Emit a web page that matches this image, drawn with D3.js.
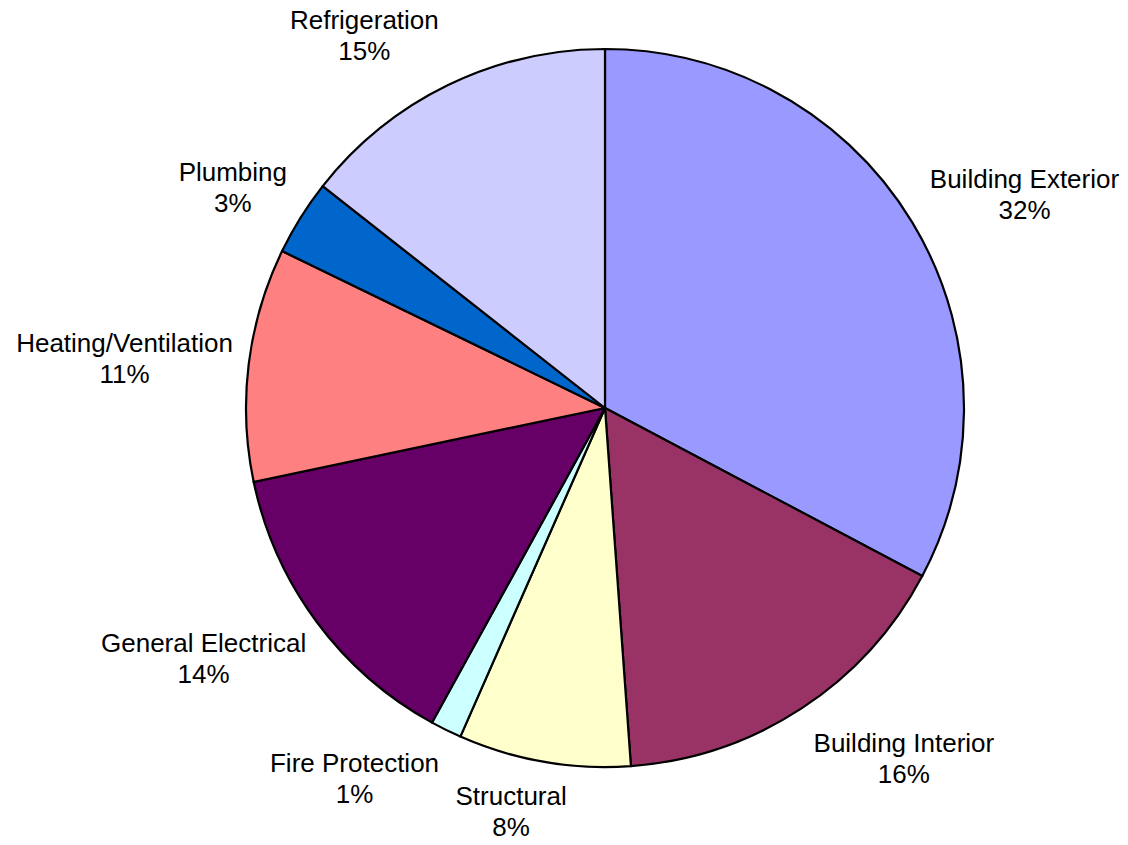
<!DOCTYPE html>
<html>
<head>
<meta charset="utf-8">
<script src="https://cdn.jsdelivr.net/npm/d3@7"></script>
<style>
  body { margin: 0; background: #fff; }
  svg text { font-family: "Liberation Sans", Arial, sans-serif; fill: #000; }
</style>
</head>
<body>
<div id="chart"></div>
<script>
// Data (shares of total, clockwise from 12 o'clock)
var categories = ['Building Exterior', 'Building Interior', 'Structural', 'Fire Protection',
                  'General Electrical', 'Heating/Ventilation', 'Plumbing', 'Refrigeration'];
var values = [32.75, 16.1, 7.75, 1.4, 13.7, 10.5, 3.4, 14.4];
var percentLabels = ['32%', '16%', '8%', '1%', '14%', '11%', '3%', '15%'];
var colors = ['#9999FF', '#993366', '#FFFFCC', '#CCFFFF', '#660066', '#FF8080', '#0066CC', '#CCCCFF'];

function drawPie(containerId) {
    var width = 1128, height = 845;
    var cx = 605, cy = 408, radius = 359;

    var container = d3.select('#' + containerId);
    container.html('');

    var svg = container.append('svg').attr('width', width).attr('height', height);
    var g = svg.append('g').attr('transform', 'translate(' + cx + ',' + cy + ')');

    var data = categories.map(function(c, i) {
        return { label: c, value: values[i], pct: percentLabels[i], color: colors[i] };
    });

    var pie = d3.pie().sort(null).value(d => d.value);
    var arc = d3.arc().innerRadius(0).outerRadius(radius);
    var arcs = pie(data);

    // Slices
    g.selectAll('path')
        .data(arcs)
        .enter()
        .append('path')
        .attr('d', arc)
        .attr('fill', d => d.data.color)
        .attr('stroke', '#000')
        .attr('stroke-width', 2.2)
        .attr('stroke-linejoin', 'round');

    // Labels outside the pie: distance from centre and a small angle nudge (degrees)
    var labelRadius = [471, 460, 414, 447, 473, 483, 433, 444];
    var labelNudge = [4, -7.4, 3.3, 7.8, 4.6, -1.1, -1.3, -6.9];
    var labelPos = function(d, i) {
        var a = (d.startAngle + d.endAngle) / 2 + labelNudge[i] * Math.PI / 180;
        var r = labelRadius[i];
        return [Math.sin(a) * r, -Math.cos(a) * r];
    };

    var labels = g.selectAll('g.label')
        .data(arcs)
        .enter()
        .append('g')
        .attr('class', 'label')
        .attr('transform', function(d, i) {
            var p = labelPos(d, i);
            return 'translate(' + p[0] + ',' + p[1] + ')';
        });

    labels.append('text')
        .attr('text-anchor', 'middle')
        .attr('y', -6)
        .attr('font-size', '26px')
        .text(d => d.data.label);

    labels.append('text')
        .attr('text-anchor', 'middle')
        .attr('y', 25)
        .attr('font-size', '26px')
        .text(d => d.data.pct);
}

drawPie('chart');
</script>
</body>
</html>
